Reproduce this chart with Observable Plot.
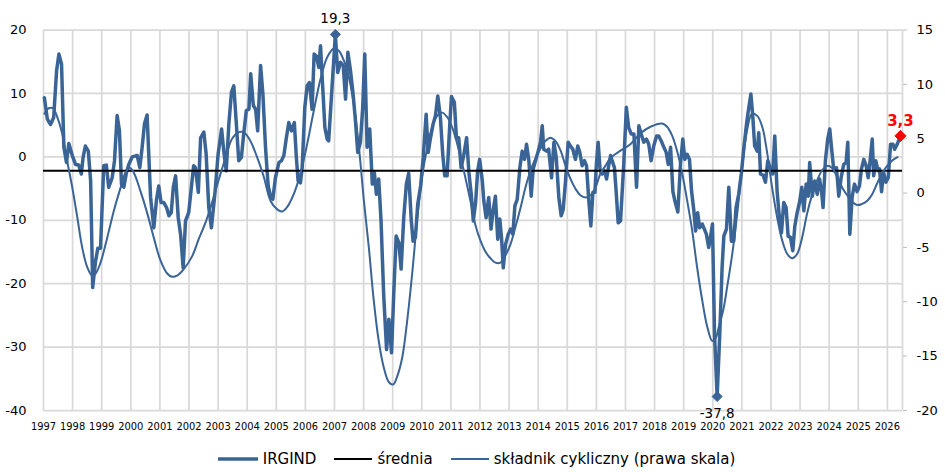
<!DOCTYPE html>
<html><head><meta charset="utf-8">
<script src="https://cdn.jsdelivr.net/npm/d3@7"></script>
<script src="https://cdn.jsdelivr.net/npm/@observablehq/plot@0.6"></script>
<style>
body{margin:0;background:#fff;font-family:"DejaVu Sans",sans-serif;}
#legend{display:flex;justify-content:center;align-items:center;height:38px;font-size:15px;color:#000;padding-left:8px;}
.item{display:flex;align-items:center;margin:0 9px;}
.item svg{margin-right:5px;}
</style></head><body>
<div id="chart"></div>
<div id="legend"></div>
<script>
// ---- data ----
const irgDates = [1997.03,1997.13,1997.24,1997.35,1997.45,1997.53,1997.62,1997.70,1997.79,1997.87,1997.99,
1998.10,1998.21,1998.30,1998.36,1998.44,1998.54,1998.62,1998.69,1998.79,1998.87,1998.96,
1999.07,1999.16,1999.24,1999.36,1999.44,1999.53,1999.61,1999.68,1999.76,1999.85,1999.93,
2000.05,2000.22,2000.31,2000.39,2000.47,2000.56,2000.68,2000.79,2000.88,2000.96,
2001.04,2001.13,2001.23,2001.31,2001.39,2001.46,2001.54,2001.63,2001.71,2001.80,2001.88,2001.99,
2002.16,2002.22,2002.32,2002.40,2002.51,2002.59,2002.68,2002.77,2002.89,
2003.00,2003.12,2003.20,2003.28,2003.37,2003.46,2003.54,2003.62,2003.71,2003.80,2003.88,2003.97,
2004.06,2004.12,2004.21,2004.29,2004.36,2004.46,2004.54,2004.63,2004.72,2004.80,2004.88,2004.97,
2005.09,2005.18,2005.26,2005.34,2005.43,2005.52,2005.62,2005.69,2005.75,2005.83,2005.89,2005.98,
2006.06,2006.14,2006.23,2006.30,2006.38,2006.46,2006.52,2006.60,2006.67,2006.75,2006.80,
2007.03,2007.11,2007.21,2007.30,2007.38,2007.46,2007.55,2007.64,2007.72,2007.80,2007.89,2007.97,
2008.04,2008.12,2008.21,2008.30,2008.37,2008.44,2008.52,2008.60,2008.69,2008.79,2008.87,2008.96,
2009.04,2009.12,2009.21,2009.29,2009.38,2009.47,2009.55,2009.64,2009.70,2009.78,2009.86,2009.96,
2010.05,2010.15,2010.22,2010.30,2010.39,2010.47,2010.55,2010.64,2010.72,2010.79,2010.87,2010.95,
2011.02,2011.12,2011.19,2011.27,2011.35,2011.44,2011.54,2011.62,2011.70,2011.77,2011.85,2011.92,2011.99,
2012.08,2012.13,2012.21,2012.30,2012.38,2012.45,2012.53,2012.61,2012.68,2012.74,2012.80,2012.88,2012.97,
2013.05,2013.13,2013.20,2013.28,2013.37,2013.45,2013.53,2013.60,2013.68,2013.76,2013.83,2013.91,
2014.00,2014.08,2014.14,2014.19,2014.29,2014.36,2014.46,2014.54,2014.62,2014.71,2014.79,2014.86,2014.94,
2015.03,2015.11,2015.19,2015.28,2015.36,2015.43,2015.51,2015.59,2015.66,2015.74,2015.81,2015.88,2015.95,
2016.00,2016.06,2016.13,2016.20,2016.28,2016.35,2016.43,2016.49,2016.54,2016.62,2016.68,2016.75,2016.83,2016.94,
2017.03,2017.11,2017.20,2017.29,2017.38,2017.46,2017.54,2017.63,2017.72,2017.80,2017.88,2017.97,
2018.07,2018.14,2018.23,2018.32,2018.40,2018.47,2018.55,2018.63,2018.69,2018.80,2018.89,2018.97,
2019.04,2019.12,2019.20,2019.27,2019.35,2019.41,2019.48,2019.55,2019.64,2019.71,2019.78,2019.86,2019.92,2019.99,
2020.06,2020.15,2020.24,2020.32,2020.38,2020.47,2020.55,2020.64,2020.72,2020.80,2020.89,2020.98,
2021.07,2021.16,2021.24,2021.31,2021.37,2021.44,2021.53,2021.58,2021.64,2021.73,2021.81,2021.89,2021.98,
2022.06,2022.13,2022.21,2022.29,2022.36,2022.44,2022.52,2022.59,2022.67,2022.75,2022.82,2022.90,2022.98,
2023.06,2023.13,2023.21,2023.28,2023.33,2023.42,2023.50,2023.59,2023.67,2023.74,2023.79,2023.87,2023.95,
2024.02,2024.08,2024.16,2024.25,2024.33,2024.41,2024.50,2024.58,2024.64,2024.71,2024.79,2024.87,2024.96,
2025.04,2025.11,2025.19,2025.27,2025.34,2025.40,2025.48,2025.53,2025.60,2025.68,2025.73,2025.80,2025.87,2025.95,
2026.03,2026.11,2026.19,2026.25,2026.34,2026.45];
const irgValues = [9.3,6.0,5.1,6.2,13.6,16.2,14.6,1.5,-0.9,2.1,0.2,
-1.2,-1.3,-2.7,-0.1,1.7,0.9,-3.8,-20.6,-16.4,-14.4,-14.4,
-1.4,-1.3,-4.8,-3.3,-0.6,6.5,4.1,-4.3,-4.8,-2.5,-1.2,
0.0,0.2,-1.7,1.5,5.2,6.6,-6.4,-11.2,-6.9,-4.6,
-7.2,-7.2,-8.0,-9.3,-8.8,-4.8,-3.0,-9.6,-12.2,-17.5,-10.1,-8.8,
-1.4,-1.7,-5.6,3.0,3.9,0.4,-8.0,-11.2,-5.8,
0.4,4.4,0.7,-2.2,5.2,10.2,11.2,5.7,-0.6,-0.1,3.6,7.3,
7.5,13.1,8.1,7.5,4.1,14.4,9.9,1.5,-4.6,-6.2,-6.7,-3.3,
-0.9,-0.6,0.2,2.8,5.4,4.1,5.4,-0.1,-3.8,-4.1,-1.7,7.8,
11.2,11.7,7.5,16.2,15.9,14.1,17.5,10.6,4.6,2.8,2.5,
19.3,13.3,14.9,14.4,9.1,16.5,13.6,9.9,5.7,0.7,2.3,7.8,
16.2,1.5,4.4,-4.3,-2.5,-5.9,-3.5,-10.1,-21.7,-30.4,-25.6,-30.9,
-21.2,-12.5,-13.5,-17.7,-9.6,-4.3,-2.6,-10.1,-13.3,-12.7,-7.5,-4.6,
-0.1,6.7,0.7,3.0,5.2,6.5,9.6,6.2,0.4,-3.0,-3.0,4.1,
9.5,8.6,3.0,3.0,-1.7,0.2,3.0,-2.5,-5.9,-10.1,-7.2,-2.2,-0.4,
-3.8,-6.9,-9.6,-6.4,-11.4,-8.5,-6.2,-13.0,-9.8,-12.7,-17.5,-13.8,-12.2,
-11.4,-12.2,-7.7,-6.7,-1.7,0.9,-0.4,2.0,-0.6,-6.2,-1.9,-0.6,
0.9,2.3,4.9,1.2,0.9,1.2,-3.3,2.3,-0.1,-6.4,-9.3,-8.3,-3.8,
2.3,1.7,1.2,-0.4,1.7,0.7,-1.4,-0.6,-1.4,-6.9,-10.9,-5.6,-5.6,
-1.2,2.3,-2.2,-2.7,-2.2,-3.5,-1.2,0.2,-0.6,-1.7,-5.5,-10.4,-10.1,-1.2,
7.8,4.6,3.6,3.6,-4.8,4.9,3.6,2.3,2.8,2.0,-0.6,1.7,
3.3,3.3,2.5,1.5,0.7,-1.2,1.5,-5.5,-6.8,-8.7,-1.2,2.8,
-0.4,0.4,-0.4,-5.4,-8.5,-11.7,-8.8,-11.2,-10.6,-11.4,-12.2,-14.3,-12.7,-10.6,
-28.0,-37.8,-28.0,-17.5,-12.5,-11.4,-4.8,-13.3,-13.3,-8.0,-5.9,-2.7,
1.5,5.2,7.8,9.9,6.7,1.7,0.9,3.8,-2.7,-2.9,-4.0,-0.6,-1.9,
-2.7,3.3,-5.4,-9.6,-12.0,-7.2,-8.0,-12.5,-12.7,-14.8,-10.9,-8.8,-7.2,
-4.8,-8.5,-4.3,-6.2,-0.9,-6.2,-3.8,-5.9,-3.5,-5.5,-8.0,-0.6,2.8,
4.4,1.5,-2.2,-1.7,-6.2,-3.3,-1.2,-0.9,2.3,-12.2,-6.3,-4.3,-5.5,
-4.6,-1.9,-0.4,-1.4,-3.3,-0.9,2.8,-3.0,-0.6,-2.2,-1.9,-5.5,-2.5,-4.0,
-3.3,2.0,2.0,1.2,2.0,3.3];

// cyclical component (right-hand scale)
const cycDates = [1997.03,1997.18,1997.33,1997.47,1997.64,1997.81,1997.99,1998.16,1998.33,1998.50,1998.67,1998.79,1998.96,
1999.19,1999.42,1999.65,1999.82,1999.97,2000.10,2000.33,2000.56,2000.79,2001.02,2001.25,2001.42,2001.59,2001.82,
2002.11,2002.34,2002.57,2002.80,2003.02,2003.25,2003.48,2003.71,2003.88,2004.11,2004.34,2004.57,2004.80,
2005.03,2005.20,2005.37,2005.60,2005.83,2006.06,2006.29,2006.52,2006.75,2006.98,2007.15,2007.32,2007.49,2007.66,2007.84,
2008.01,2008.18,2008.35,2008.52,2008.69,2008.87,2009.02,2009.15,2009.33,2009.50,2009.67,2009.84,
2010.01,2010.19,2010.36,2010.53,2010.70,2010.87,2011.04,2011.22,2011.44,2011.67,2011.85,
2012.02,2012.19,2012.36,2012.53,2012.70,2012.88,2013.05,2013.22,2013.39,2013.56,2013.74,2013.91,
2014.08,2014.25,2014.42,2014.59,2014.77,2014.94,2015.11,2015.28,2015.45,2015.63,2015.80,2015.97,
2016.14,2016.31,2016.48,2016.66,2016.83,2017.17,2017.52,2017.86,2018.26,2018.43,2018.60,2018.78,2018.95,
2019.12,2019.29,2019.46,2019.64,2019.81,2019.98,2020.09,2020.21,2020.38,2020.49,2020.67,2020.84,
2021.01,2021.18,2021.35,2021.53,2021.70,2021.84,2022.04,2022.21,2022.39,2022.56,2022.73,2022.90,
2023.07,2023.24,2023.42,2023.59,2023.76,2023.93,2024.10,2024.27,2024.45,2024.62,2024.79,2024.96,
2025.13,2025.31,2025.48,2025.65,2025.82,2025.99,2026.17,2026.35];
const cycValues = [7.3,7.8,7.8,7.0,5.5,3.0,0.5,-2.2,-5.0,-6.8,-7.6,-7.4,-6.4,
-4.1,-1.6,0.5,1.9,2.3,1.9,0.2,-1.8,-4.1,-6.2,-7.4,-7.7,-7.6,-7.0,
-5.8,-4.2,-2.7,-0.8,1.2,3.2,5.0,5.6,5.6,4.8,3.3,1.5,-0.7,
-1.5,-1.7,-1.3,-0.1,1.8,4.5,7.6,10.5,12.5,13.3,13.1,12.2,10.7,8.2,4.2,
-0.7,-5.0,-9.9,-13.6,-16.0,-17.4,-17.6,-16.9,-15.1,-11.7,-7.4,-2.5,
1.5,4.2,6.1,7.1,7.4,7.0,6.1,4.5,2.1,-0.7,-3.0,
-4.4,-5.4,-6.0,-6.4,-6.4,-5.7,-4.7,-3.1,-1.4,0.5,2.1,3.2,
4.1,4.8,5.1,4.8,3.9,2.5,1.3,0.4,-0.2,-0.4,-0.2,0.5,
1.8,2.5,3.2,3.6,3.9,4.5,5.5,6.1,6.4,6.1,5.3,3.8,1.8,
-0.7,-3.4,-6.8,-9.9,-12.3,-13.6,-13.4,-12.3,-10.5,-8.7,-5.6,-1.9,
2.4,5.8,7.3,7.1,6.1,4.2,0.5,-2.2,-4.4,-5.6,-6.0,-5.6,
-4.1,-1.9,-0.1,1.2,2.1,2.5,2.3,1.5,0.5,-0.2,-0.8,-1.1,
-1.0,-0.7,-0.1,0.9,1.8,2.5,3.0,3.3];

const meanValue = -2.2;            // "średnia"
const leftTicks = [-40,-30,-20,-10,0,10,20];
const rightTicks = [-20,-15,-10,-5,0,5,10,15];
const yearTicks = d3.range(1997, 2027);
const xEnd = 2026.52;
const leftDomain = [-40, 20];
const rightDomain = [-20, 15];

const blue = "#3a6496";
const grid = "#d9d9d9";

// ---- mapping of right scale onto left scale ----
const toLeft = r => leftDomain[0] + (r - rightDomain[0]) * (leftDomain[1]-leftDomain[0]) / (rightDomain[1]-rightDomain[0]);
const toRight = l => rightDomain[0] + (l - leftDomain[0]) * (rightDomain[1]-rightDomain[0]) / (leftDomain[1]-leftDomain[0]);

const irg = irgDates.map((d,i)=>({x:d, y:irgValues[i]}));
const cyc = cycDates.map((d,i)=>({x:d, y:toLeft(cycValues[i])}));
const iMax = d3.maxIndex(irgValues), iMin = d3.minIndex(irgValues), iLast = irgValues.length-1;
const fmt = v => v.toFixed(1).replace(".", ",");

const chart = Plot.plot({
  width: 945, height: 440,
  marginLeft: 43, marginRight: 43, marginTop: 29.5, marginBottom: 30,
  x: {domain: [1997, xEnd]},
  y: {domain: leftDomain},
  style: {fontFamily: "DejaVu Sans", fontSize: "13px", color: "#000", background: "#fff", overflow: "visible"},
  marks: [
    Plot.ruleY(leftTicks, {stroke: grid, strokeWidth: 1.75}),
    Plot.ruleX([...yearTicks, xEnd], {stroke: grid, strokeWidth: 1.75}),
    Plot.axisY({ticks: leftTicks, anchor: "left", tickSize: 0, tickPadding: 17, label: null,
      tickFormat: d => String(d), fontSize: 13, fill: "#000"}),
    Plot.axisY({ticks: rightTicks.map(toLeft), anchor: "right", tickSize: 4, tickPadding: 10, label: null,
      stroke: "#bfbfbf", fill: "#000", tickFormat: d => String(Math.round(toRight(d))), fontSize: 13}),
    Plot.axisX({ticks: yearTicks, anchor: "bottom", tickSize: 0, tickPadding: 12, label: null,
      tickFormat: d => String(d), fontSize: 11, fill: "#000",
      fontFamily: "'DejaVu Sans Condensed', 'Liberation Sans Narrow', 'DejaVu Sans'"}),
    Plot.line(irg, {x: "x", y: "y", stroke: blue, strokeWidth: 3.5, strokeLinejoin: "round"}),
    Plot.ruleY([meanValue], {stroke: "#000", strokeWidth: 2}),
    Plot.line(cyc, {x: "x", y: "y", stroke: blue, strokeWidth: 2, curve: "catmull-rom"}),
    Plot.dot([irg[iMax], irg[iMin]], {x: "x", y: "y", symbol: "diamond2", r: 4.5, fill: blue, stroke: blue, strokeWidth: 1}),
    Plot.dot([irg[iLast]], {x: "x", y: "y", symbol: "diamond2", r: 5, fill: "#ff0000", stroke: "#ff0000", strokeWidth: 1}),
    Plot.text([irg[iMax]], {x: "x", y: "y", text: d => fmt(d.y), dy: -16, fontSize: 13.5, fill: "#000"}),
    Plot.text([irg[iMin]], {x: "x", y: "y", text: d => fmt(d.y), dy: 17, fontSize: 13.5, fill: "#000"}),
    Plot.text([irg[iLast]], {x: "x", y: "y", text: d => fmt(d.y), dy: -15, fontSize: 15, fontWeight: "bold", fill: "#ff0000"})
  ]
});
document.getElementById("chart").appendChild(chart);

// ---- legend ----
const legendItems = [
  {label: "IRGIND", color: blue, width: 3.5, len: 40},
  {label: "średnia", color: "#000", width: 2, len: 38},
  {label: "składnik cykliczny (prawa skala)", color: blue, width: 2, len: 38}
];
const legend = d3.select("#legend");
for (const it of legendItems) {
  const item = legend.append("div").attr("class", "item");
  const s = item.append("svg").attr("width", it.len).attr("height", 10);
  s.append("line").attr("x1", 0).attr("x2", it.len).attr("y1", 5).attr("y2", 5)
    .attr("stroke", it.color).attr("stroke-width", it.width);
  item.append("span").text(it.label);
}
</script>
</body></html>
